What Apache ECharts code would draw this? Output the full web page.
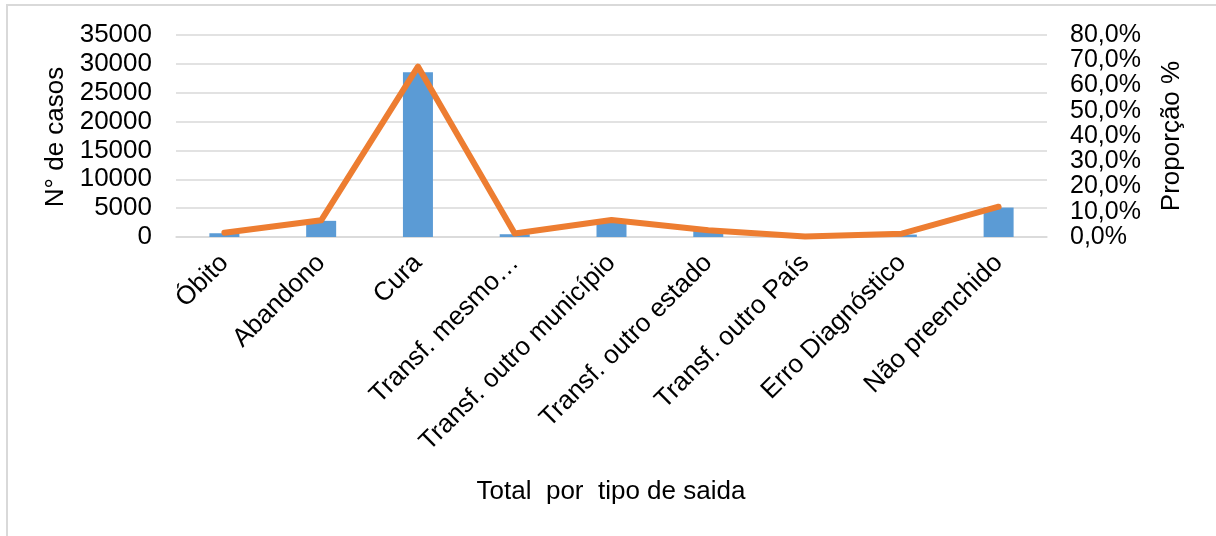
<!DOCTYPE html>
<html>
<head>
<meta charset="utf-8">
<script src="https://cdn.jsdelivr.net/npm/echarts@6/dist/echarts.min.js"></script>
<style>html,body{margin:0;padding:0;background:#fff;}#c{width:1216px;height:536px;}</style>
</head>
<body>
<div id="c"></div>
<script>
const categories = ['Óbito','Abandono','Cura','Transf. mesmo…','Transf. outro município','Transf. outro estado','Transf. outro País','Erro Diagnóstico','Não preenchido'];
const casos = [650, 2800, 28550, 480, 2800, 1100, 30, 420, 5100];
const proporcao = [0.017, 0.066, 0.675, 0.014, 0.067, 0.027, 0.002, 0.013, 0.12];
const leftTicks = {min: 0, max: 35000, interval: 5000};
const rightTicks = {min: 0, max: 0.8, interval: 0.1};

const FONT = 'Liberation Sans, Arial, sans-serif';
const FS = 26;
const chart = echarts.init(document.getElementById('c'));
chart.setOption({
  animation: false,
  backgroundColor: '#fff',
  grid: {left: 176, right: 169, top: 35, bottom: 299},
  xAxis: {
    type: 'category',
    data: categories,
    axisLine: {show: true, lineStyle: {color: '#d9d9d9', width: 1.5}},
    axisTick: {show: false},
    axisLabel: {rotate: 45, interval: 0, margin: 22, color: '#000', fontSize: FS, fontFamily: FONT}
  },
  yAxis: [
    {
      type: 'value', min: leftTicks.min, max: leftTicks.max, interval: leftTicks.interval,
      axisLine: {show: false}, axisTick: {show: false},
      splitLine: {lineStyle: {color: '#d9d9d9', width: 1.5}},
      axisLabel: {margin: 24, color: '#000', fontSize: FS, fontFamily: FONT, formatter: v => String(v),
        showMinLabel: true, showMaxLabel: true, hideOverlap: false}
    },
    {
      type: 'value', min: rightTicks.min, max: rightTicks.max, interval: rightTicks.interval,
      axisLine: {show: false}, axisTick: {show: false}, splitLine: {show: false},
      axisLabel: {margin: 23, color: '#000', fontSize: 25, fontFamily: FONT,
        showMinLabel: true, showMaxLabel: true, hideOverlap: false,
        formatter: v => (v * 100).toFixed(1).replace('.', ',') + '%'}
    }
  ],
  series: [
    {type: 'bar', data: casos, barWidth: 30, itemStyle: {color: '#5B9BD5'}, yAxisIndex: 0},
    {type: 'line', data: proporcao, yAxisIndex: 1, symbol: 'none', smooth: false,
      lineStyle: {color: '#ED7D31', width: 6, cap: 'round', join: 'round'}}
  ],
  graphic: [
    {type: 'rect', shape: {x: 7, y: 5, width: 1230, height: 600}, style: {fill: 'none', stroke: '#d9d9d9', lineWidth: 2}, silent: true},
    {type: 'text', x: 56, y: 137, rotation: Math.PI / 2,
      style: {text: 'N° de casos', fontSize: FS, fontFamily: FONT, fill: '#000', align: 'center', verticalAlign: 'middle'}},
    {type: 'text', x: 1172, y: 136, rotation: Math.PI / 2,
      style: {text: 'Proporção %', fontSize: FS, fontFamily: FONT, fill: '#000', align: 'center', verticalAlign: 'middle'}},
    {type: 'text', x: 611, y: 492,
      style: {text: 'Total  por  tipo de saida', fontSize: FS, fontFamily: FONT, fill: '#000', align: 'center', verticalAlign: 'middle'}}
  ]
});
</script>
</body>
</html>
